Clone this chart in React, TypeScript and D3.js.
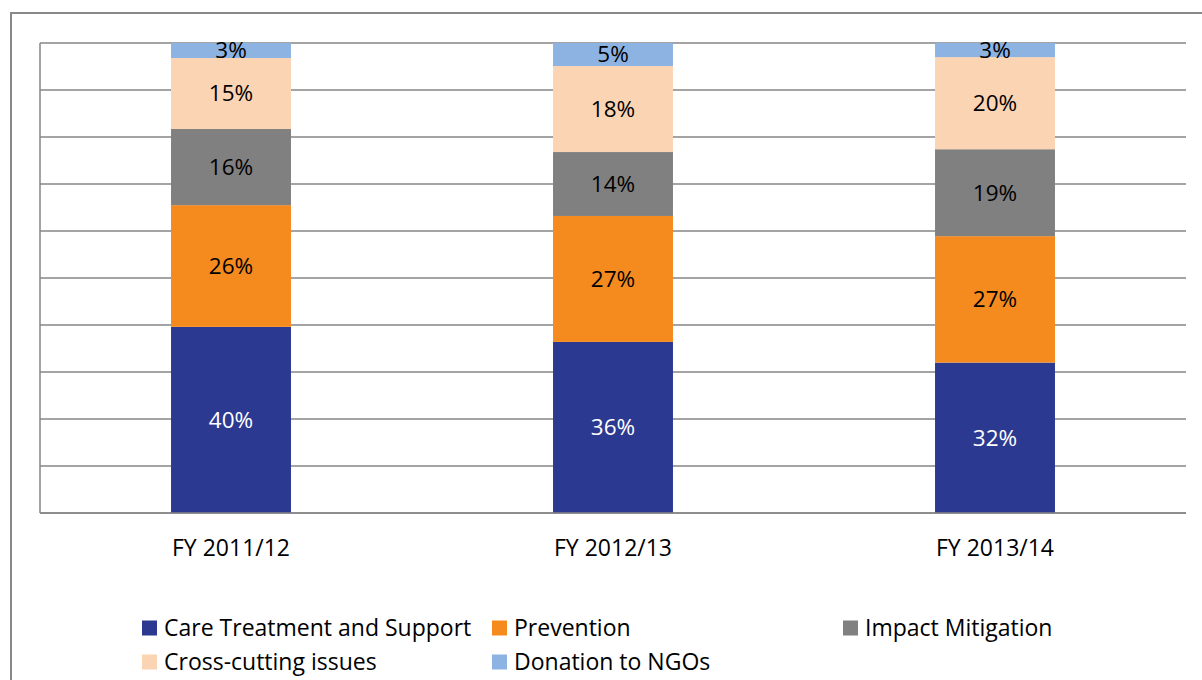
import React from "react";
import * as d3 from "d3";

const categories = ["FY 2011/12", "FY 2012/13", "FY 2013/14"];
const seriesNames = ["Care Treatment and Support", "Prevention", "Impact Mitigation", "Cross-cutting issues", "Donation to NGOs"];
const careValues = [39.6, 36.4, 32.0];
const preventionValues = [25.9, 26.8, 26.9];
const impactValues = [16.2, 13.6, 18.5];
const crossValues = [15.1, 18.3, 19.6];
const donationValues = [3.2, 4.9, 3.0];
const seriesLabels = [
  ["40%", "36%", "32%"],
  ["26%", "27%", "27%"],
  ["16%", "14%", "19%"],
  ["15%", "18%", "20%"],
  ["3%", "5%", "3%"],
];
const colors = ["#2C3990", "#F58B1F", "#808080", "#FBD4B4", "#8DB3E2"];
const labelColors = ["#FFFFFF", "#000000", "#000000", "#000000", "#000000"];

const allSeries = [careValues, preventionValues, impactValues, crossValues, donationValues];

export default function App() {
  const W = 1202, H = 680;
  const left = 40, right = 1186, top = 43, bottom = 513;
  const font = "'Open Sans', sans-serif";

  const rows = categories.map((c, i) => {
    const r: any = { cat: c };
    seriesNames.forEach((s, j) => (r[s] = allSeries[j][i]));
    return r;
  });
  const stack = d3.stack<any>().keys(seriesNames).offset(d3.stackOffsetExpand);
  const stacked = stack(rows);

  const x = d3.scaleBand<string>().domain(categories).range([left, right]).paddingInner(0.686).paddingOuter(0.343);
  const y = d3.scaleLinear().domain([0, 1]).range([bottom, top]);
  const ticks = d3.range(0, 1.0001, 0.1);

  const legendRows = [
    [{ i: 0, x: 142 }, { i: 1, x: 492 }, { i: 2, x: 843 }],
    [{ i: 3, x: 142 }, { i: 4, x: 492 }],
  ];
  const legendY = [628, 662];

  return (
    <svg width={W} height={H} style={{ position: "absolute", left: 0, top: 0 }}>
      <rect x={0} y={0} width={W} height={H} fill="#fff" />
      <rect x={11} y={13} width={W + 20} height={H + 20} fill="none" stroke="#888" strokeWidth={2} />
      {ticks.map((t, k) => (
        <line key={k} x1={left} x2={right} y1={y(t)} y2={y(t)} stroke="#868686" strokeWidth={1.5} />
      ))}
      <line x1={left} x2={left} y1={top} y2={bottom} stroke="#868686" strokeWidth={1.5} />
      {stacked.map((s, j) => (
        <g key={j}>
          {s.map((d, i) => (
            <rect key={i} x={x(categories[i])} width={x.bandwidth()} y={y(d[1])} height={y(d[0]) - y(d[1])} fill={colors[j]} />
          ))}
        </g>
      ))}
      {stacked.map((s, j) => (
        <g key={"l" + j}>
          {s.map((d, i) => (
            <text key={i} x={(x(categories[i]) as number) + x.bandwidth() / 2} y={(y(d[0]) + y(d[1])) / 2} dy="0.35em"
              textAnchor="middle" fontFamily={font} fontSize={22.5} fill={labelColors[j]}>
              {seriesLabels[j][i]}
            </text>
          ))}
        </g>
      ))}
      <line x1={left} x2={right} y1={bottom} y2={bottom} stroke="#868686" strokeWidth={1.5} />
      {categories.map((c) => (
        <text key={c} x={(x(c) as number) + x.bandwidth() / 2} y={548} dy="0.35em" textAnchor="middle" fontFamily={font} fontSize={23} fill="#000">
          {c}
        </text>
      ))}
      {legendRows.map((row, r) => (
        <g key={r}>
          {row.map((it) => (
            <g key={it.i}>
              <rect x={it.x} y={legendY[r] - 7.5} width={15} height={15} fill={colors[it.i]} />
              <text x={it.x + 22} y={legendY[r]} dy="0.35em" fontFamily={font} fontSize={23} fill="#000">
                {seriesNames[it.i]}
              </text>
            </g>
          ))}
        </g>
      ))}
    </svg>
  );
}
